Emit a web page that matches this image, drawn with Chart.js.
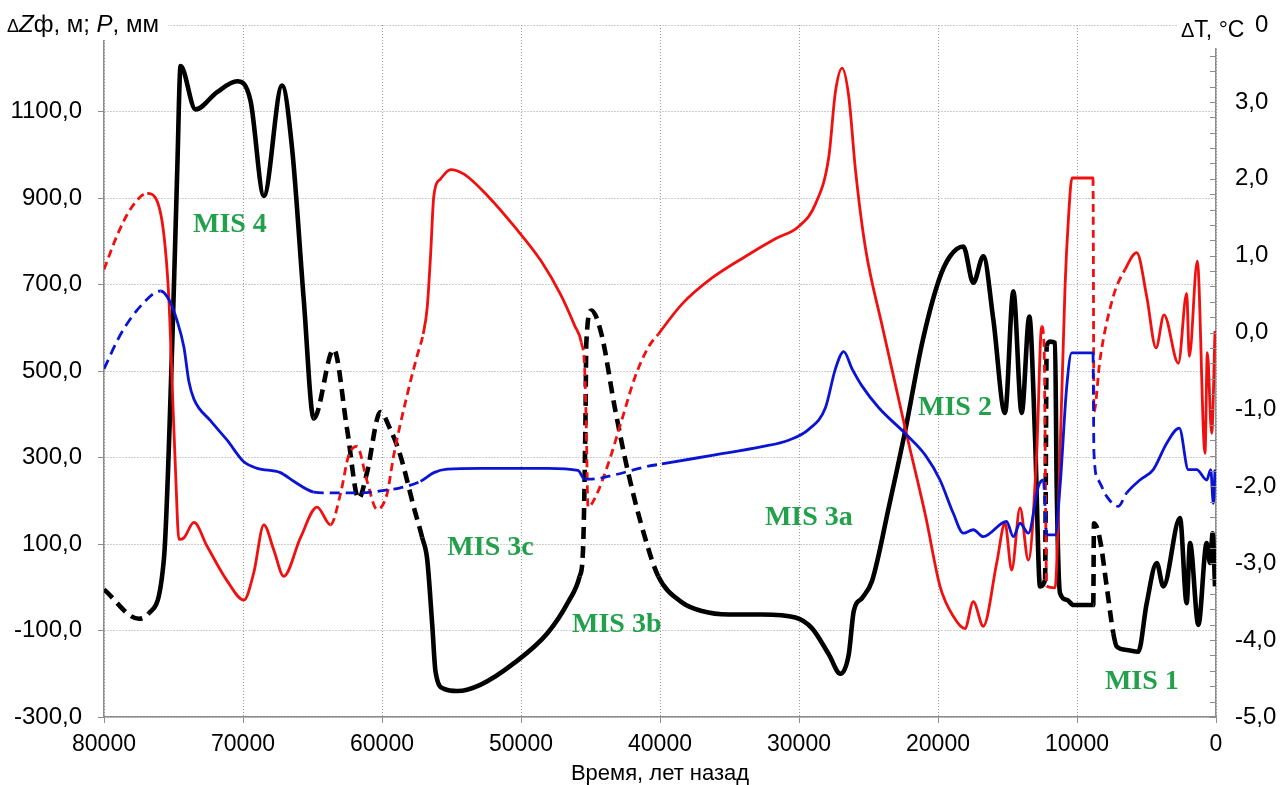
<!DOCTYPE html>
<html>
<head>
<meta charset="utf-8">
<script src="https://cdn.jsdelivr.net/npm/chart.js@4.4.1/dist/chart.umd.min.js"></script>
<style>
  html, body { margin: 0; padding: 0; background: #ffffff; }
  #wrap { width: 1280px; height: 785px; }
</style>
</head>
<body>
<div id="wrap"><canvas id="c" width="1280" height="785"></canvas></div>
<script>
// ΔZф, м — height change (left axis), black
const blackT = [80000, 77485, 76767, 75690, 75090, 74730, 74490, 73415, 71860, 70420,
  69460, 68500, 67190, 66470, 65630, 64910, 63470, 62510, 61680, 61080,
  60120, 59400, 58680, 57710, 57110, 56750, 56390, 56150, 55540, 54580,
  52890, 50480, 48070, 46620, 45780, 45540, 45370, 45300, 44940, 44210,
  43250, 42290, 41080, 40120, 38420, 36980, 35060, 32660, 30260, 29060,
  27860, 27020, 26420, 26060, 25460, 24740, 23540, 22340, 21140, 19940,
  19140, 18180, 17460, 16740, 16020, 15180, 14580, 13980, 13430, 13020,
  12660, 12300, 12180, 11940, 11580, 11460, 11220, 10740, 10260, 8830,
  8780, 8345, 7865, 7390, 7145, 6425, 5590, 4985, 4265, 3790,
  2590, 2110, 1870, 1270, 670, 430, 240, 70];
const blackV = [-5, -73, -60, 65, 565, 965, 1205, 1105, 1145, 1170,
  1125, 905, 1160, 1015, 665, 390, 550, 365, 205, 265,
  405, 365, 305, 185, 115, 65, -85, -195, -235, -240,
  -225, -175, -105, -35, 25, 85, 365, 565, 640, 585,
  415, 265, 115, 25, -35, -55, -63, -63, -70, -95,
  -155, -200, -155, -55, -25, 15, 185, 365, 565, 710,
  765, 788, 704, 765, 619, 403, 684, 403, 626, 349,
  2, 17, 557, 568, 565, 233, -14, -29, -41, -41,
  148, 110, 2, -106, -137, -145, -149, -37, 56, 2,
  160, -37, 102, -87, 102, 56, 125, 2];
const blackDashed = [[76767, 80000], [57110, 64910], [40120, 45780], [12180, 12300], [7390, 8830]];

// ΔT, °C — temperature anomaly (right axis), red
const redT = [80000, 79040, 78080, 76890, 76290, 75690, 75330, 75090, 74850, 74610,
  74250, 73530, 72580, 71140, 69940, 69220, 68500, 67780, 67070, 65870,
  64670, 63710, 62990, 62400, 61800, 61080, 60360, 59640, 59160, 58190,
  57470, 57040, 56750, 56510, 56270, 55780, 55060, 54100, 52410, 50480,
  48550, 47110, 46140, 45660, 45420, 45300, 45180, 44700, 43730, 42770,
  41800, 40840, 40120, 38420, 36260, 33860, 31700, 30020, 28820, 27860,
  27380, 26900, 26420, 25940, 25220, 24020, 22340, 20900, 19855, 18900,
  18060, 17460, 16740, 15780, 15180, 14700, 14100, 13500, 12900, 12540,
  12370, 12180, 11580, 11220, 10860, 10620, 10360, 8850, 8780, 8345,
  7390, 6545, 5705, 4985, 4315, 3740, 2710, 2110, 1920, 1345,
  790, 625, 310, 70];
const redV = [0.82, 1.27, 1.61, 1.81, 1.75, 1.27, 0.43, -0.70, -1.82, -2.69,
  -2.67, -2.47, -2.78, -3.23, -3.48, -3.12, -2.50, -2.83, -3.17, -2.67,
  -2.27, -2.50, -2.10, -1.60, -1.48, -1.93, -2.30, -2.10, -1.60, -0.81,
  -0.30, -0.02, 0.32, 0.99, 1.78, 2.00, 2.12, 2.06, 1.78, 1.38,
  0.93, 0.48, 0.09, -0.13, -0.47, -1.26, -2.27, -2.16, -1.71, -1.15,
  -0.58, -0.19, -0.02, 0.37, 0.71, 0.99, 1.22, 1.38, 1.67, 2.28,
  3.13, 3.44, 3.07, 2.12, 1.10, 0.09, -1.26, -2.38, -3.30, -3.69,
  -3.85, -3.50, -3.82, -3.00, -2.48, -3.09, -2.28, -2.96, -1.57, 0.08,
  -0.18, -3.30, -3.32, -1.57, 0.60, 1.47, 2.01, 2.01, -1.03, -0.35,
  0.47, 0.82, 1.04, 0.47, -0.20, 0.23, -0.40, 0.51, -0.31, 0.93,
  -1.57, -0.26, -1.31, 0.02];
const redDashed = [[76890, 80000], [57040, 63710], [40120, 45660], [12180, 12540], [6545, 8850]];

// P, мм — precipitation (left axis), blue
const blueT = [80000, 78800, 77370, 75930, 75330, 74730, 74250, 73890, 73530, 72340,
  71140, 69940, 68980, 67310, 66350, 64910, 63950, 61560, 59640, 58680,
  57230, 56270, 55300, 52890, 50480, 48070, 45900, 45420, 44940, 43250,
  40840, 39860, 36260, 32660, 30740, 29300, 28100, 27380, 26780, 26180,
  25460, 24260, 22340, 20900, 19855, 18900, 18180, 17460, 16740, 15070,
  14580, 14100, 13500, 12780, 12420, 12180, 11580, 11220, 10740, 10380,
  8850, 8780, 8470, 7865, 7030, 6425, 5470, 4510, 3545, 2640,
  1990, 1390, 670, 380, 190, 70];
const blueV = [505, 585, 650, 685, 665, 615, 555, 475, 435, 385,
  340, 290, 275, 265, 245, 220, 218, 218, 225, 230,
  245, 265, 273, 275, 275, 275, 270, 250, 250, 260,
  280, 285, 305, 325, 340, 365, 415, 505, 545, 505,
  465, 415, 355, 305, 248, 171, 125, 133, 117, 152,
  117, 148, 125, 233, 248, 121, 121, 233, 464, 542,
  542, 310, 248, 210, 187, 218, 248, 272, 333, 368,
  272, 272, 248, 272, 194, 272];
const blueDashed = [[75930, 80000], [57230, 64910], [39860, 45420], [12180, 12420], [6425, 8850]];

// Marine isotope stage labels (time, left-axis value)
const misText = ['MIS 4', 'MIS 3c', 'MIS 3b', 'MIS 3a', 'MIS 2', 'MIS 1'];
const misT = [73600, 55300, 46330, 32450, 21440, 7990];
const misV = [838, 91, -87, 160, 415, -219];

const toPoints = (ts, vs) => ts.map((t, i) => ({ x: t, y: vs[i] }));

function dashIn(ranges, pattern) {
  return ctx => {
    const m = (ctx.p0.parsed.x + ctx.p1.parsed.x) / 2;
    return ranges.some(r => m >= r[0] && m <= r[1]) ? pattern : undefined;
  };
}

const fmt1 = v => v.toFixed(1).replace('.', ',').replace('-0,0', '0,0');
const AXIS = '#8c8c8c';
const GRID = '#9c9c9c';
const SANS = '"Liberation Sans", Arial, sans-serif';

const misLabels = {
  id: 'misLabels',
  afterDatasetsDraw(chart) {
    const { ctx, scales } = chart;
    ctx.save();
    ctx.fillStyle = '#22a04b';
    ctx.font = 'bold 28px "Liberation Serif", "Times New Roman", serif';
    ctx.textAlign = 'left';
    ctx.textBaseline = 'middle';
    misText.forEach((s, i) => {
      ctx.fillText(s, scales.x.getPixelForValue(misT[i]), scales.y.getPixelForValue(misV[i]));
    });
    ctx.restore();
  }
};

const axisDecor = {
  id: 'axisDecor',
  afterDraw(chart) {
    const { ctx, scales } = chart;
    const r = scales.y1;
    ctx.save();
    // inner ticks on the temperature axis, every 0.2 °C
    ctx.strokeStyle = AXIS;
    ctx.lineWidth = 1;
    for (let i = 0; i <= 45; i++) {
      const y = Math.round(r.getPixelForValue(-5 + i * 0.2)) + 0.5;
      ctx.beginPath();
      ctx.moveTo(r.left - 6, y);
      ctx.lineTo(r.left, y);
      ctx.stroke();
    }
    // left axis title
    ctx.fillStyle = '#ffffff';
    ctx.fillRect(0, 0, 168, 40);
    ctx.fillStyle = '#000000';
    ctx.textBaseline = 'alphabetic';
    ctx.textAlign = 'left';
    let x = 7;
    const runs = [
      ['Δ', '18px ' + SANS],
      ['Z', 'italic 24px ' + SANS],
      ['ф, м; ', '24px ' + SANS],
      ['P', 'italic 24px ' + SANS],
      [', мм', '24px ' + SANS]
    ];
    runs.forEach(([t, f]) => {
      ctx.font = f;
      ctx.fillText(t, x, 32);
      x += ctx.measureText(t).width;
    });
    // right axis title
    ctx.fillStyle = '#ffffff';
    ctx.fillRect(1177, 0, 76, 48);
    ctx.fillStyle = '#000000';
    let xr = 1181;
    const runsR = [
      ['Δ', '20px ' + SANS],
      ['T, °C', '23px ' + SANS]
    ];
    runsR.forEach(([t, f]) => {
      ctx.font = f;
      ctx.fillText(t, xr, 37);
      xr += ctx.measureText(t).width;
    });
    ctx.restore();
  }
};

Chart.defaults.font.family = SANS;
Chart.defaults.color = '#000000';

new Chart(document.getElementById('c'), {
  type: 'line',
  data: {
    datasets: [
      {
        label: 'P, мм',
        data: toPoints(blueT, blueV),
        yAxisID: 'y',
        borderColor: '#0a14d2',
        borderWidth: 2.8,
        pointRadius: 0,
        cubicInterpolationMode: 'monotone',
        borderCapStyle: 'butt',
        borderJoinStyle: 'round',
        segment: { borderDash: dashIn(blueDashed, [10, 6]) },
        order: 1
      },
      {
        label: 'ΔT, °C',
        data: toPoints(redT, redV),
        yAxisID: 'y1',
        borderColor: '#f01010',
        borderWidth: 2.8,
        pointRadius: 0,
        cubicInterpolationMode: 'monotone',
        borderCapStyle: 'butt',
        borderJoinStyle: 'round',
        segment: { borderDash: dashIn(redDashed, [8, 5]) },
        order: 2
      },
      {
        label: 'ΔZф, м',
        data: toPoints(blackT, blackV),
        yAxisID: 'y',
        borderColor: '#000000',
        borderWidth: 4.6,
        pointRadius: 0,
        cubicInterpolationMode: 'monotone',
        borderCapStyle: 'butt',
        borderJoinStyle: 'round',
        segment: { borderDash: dashIn(blackDashed, [12, 7]) },
        order: 3
      }
    ]
  },
  options: {
    responsive: false,
    animation: false,
    devicePixelRatio: 1,
    layout: { padding: { top: 25, left: 0, right: 0, bottom: 0 } },
    plugins: { legend: { display: false }, tooltip: { enabled: false } },
    scales: {
      x: {
        type: 'linear',
        reverse: true,
        min: 0,
        max: 80000,
        afterFit: s => { s.height = 68; s.paddingLeft = 0; s.paddingRight = 0; },
        ticks: {
          stepSize: 10000,
          autoSkip: false,
          maxRotation: 0,
          padding: 8,
          font: { size: 23 },
          callback: v => String(v)
        },
        grid: { color: GRID, lineWidth: 1, tickLength: 6, tickColor: AXIS },
        border: { color: AXIS, width: 1.5, dash: [1, 2] },
        title: {
          display: true,
          text: 'Время, лет назад',
          font: { size: 22, lineHeight: 1 },
          padding: { top: 0, bottom: 0 }
        }
      },
      y: {
        position: 'left',
        min: -300,
        max: 1300,
        afterFit: s => { s.width = 104; s.paddingTop = 0; s.paddingBottom = 0; },
        ticks: {
          stepSize: 200,
          padding: 16,
          font: { size: 24 },
          callback: v => (v === 1300 ? '' : fmt1(v))
        },
        grid: { color: GRID, lineWidth: 1, tickLength: 6, tickColor: AXIS },
        border: { color: AXIS, width: 1.5, dash: [1, 2] }
      },
      y1: {
        position: 'right',
        min: -5,
        max: 4,
        afterFit: s => { s.width = 64; s.paddingTop = 0; s.paddingBottom = 0; },
        ticks: {
          stepSize: 1,
          padding: 19,
          font: { size: 24 },
          callback: v => fmt1(v)
        },
        grid: { drawOnChartArea: false, drawTicks: false },
        border: { color: AXIS, width: 1.5 }
      }
    }
  },
  plugins: [misLabels, axisDecor]
});
</script>
</body>
</html>
